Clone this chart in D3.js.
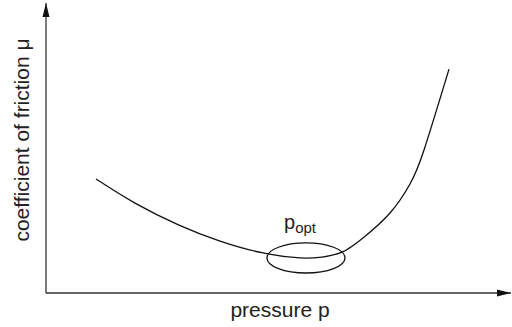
<!DOCTYPE html>
<html>
<head>
<meta charset="utf-8">
<script src="https://cdn.jsdelivr.net/npm/d3@7"></script>
<style>
  html, body { margin: 0; padding: 0; background: #fff; }
  svg { display: block; }
  text { font-family: "Liberation Sans", Arial, Helvetica, sans-serif; fill: #222; }
</style>
</head>
<body>
<svg id="chart" width="512" height="327"></svg>
<script>
// Data (pressure units, coefficient of friction)
const pressure = [1.075, 1.914, 2.860, 3.742, 4.667, 5.462, 5.935, 6.366, 6.817, 7.398, 7.828, 8.129, 8.667];
const friction = [0.393, 0.310, 0.234, 0.179, 0.138, 0.121, 0.124, 0.141, 0.190, 0.276, 0.376, 0.493, 0.772];
const optimum = [5.591, 0.121];      // centre of the p_opt ellipse
const optimumSpread = [0.839, 0.052]; // half-width / half-height of ellipse
const xLabel = "pressure p";
const yLabel = "coefficient of friction μ";

const svg = d3.select("#chart");
const x = d3.scaleLinear().domain([0, 10]).range([46, 511]);
const y = d3.scaleLinear().domain([0, 1]).range([293, 3]);

const defs = svg.append("defs");
defs.append("marker").attr("id", "arrX").attr("viewBox", "0 0 14 8")
  .attr("refX", 14).attr("refY", 4).attr("markerWidth", 14).attr("markerHeight", 8)
  .attr("markerUnits", "userSpaceOnUse").attr("orient", "auto")
  .append("path").attr("d", "M0,0.5 L14,4 L0,7.5 Z").attr("fill", "#111");

// axes
svg.append("line").attr("x1", x(0)).attr("y1", y(0)).attr("x2", x(10)).attr("y2", y(0))
  .attr("stroke", "#333").attr("stroke-width", 1.3).attr("marker-end", "url(#arrX)");
svg.append("line").attr("x1", x(0)).attr("y1", y(0)).attr("x2", x(0)).attr("y2", y(1))
  .attr("stroke", "#333").attr("stroke-width", 1.3).attr("marker-end", "url(#arrX)");

// curve
const line = d3.line().x((d, i) => x(pressure[i])).y((d, i) => y(friction[i])).curve(d3.curveNatural);
svg.append("path").datum(pressure).attr("d", line)
  .attr("fill", "none").attr("stroke", "#111").attr("stroke-width", 1.3);

// ellipse
svg.append("ellipse")
  .attr("cx", x(optimum[0])).attr("cy", y(optimum[1]))
  .attr("rx", x(optimum[0] + optimumSpread[0]) - x(optimum[0]))
  .attr("ry", y(optimum[1]) - y(optimum[1] + optimumSpread[1]))
  .attr("fill", "none").attr("stroke", "#111").attr("stroke-width", 1.3);

// p_opt label
const pt = svg.append("text").attr("x", 284).attr("y", 229).attr("font-size", 20);
pt.append("tspan").text("p");
pt.append("tspan").attr("dy", 4).attr("font-size", 15).text("opt");

// axis labels
svg.append("text").attr("x", 280).attr("y", 317).attr("text-anchor", "middle")
  .attr("font-size", 21).text(xLabel);
svg.append("text").attr("transform", "translate(29,140) rotate(-90)").attr("text-anchor", "middle")
  .attr("font-size", 21).text(yLabel);
</script>
</body>
</html>
